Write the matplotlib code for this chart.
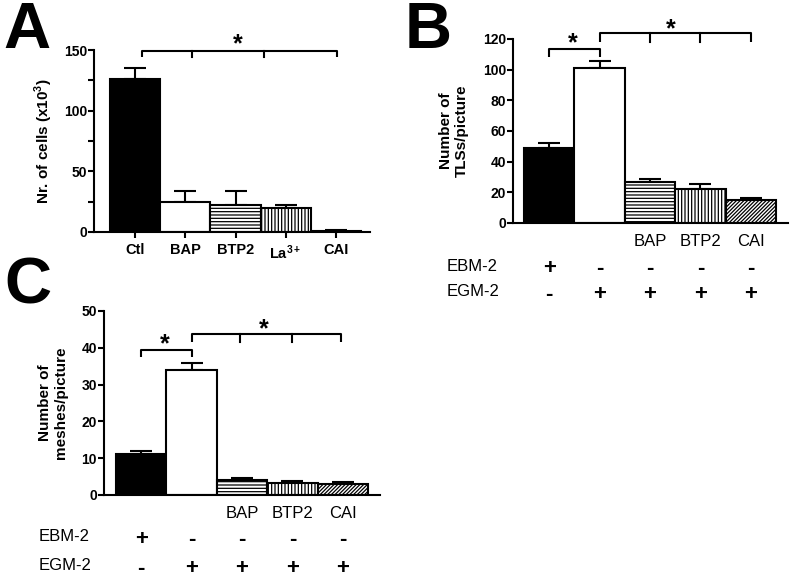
import numpy as np
import matplotlib
matplotlib.use('Agg')
import matplotlib.pyplot as plt

plt.rcParams['font.family'] = ['Liberation Sans', 'DejaVu Sans']
plt.rcParams['mathtext.fontset'] = 'custom'
plt.rcParams['mathtext.rm'] = 'Liberation Sans'
plt.rcParams['mathtext.bf'] = 'Liberation Sans:bold'
plt.rcParams['hatch.linewidth'] = 0.9

# panel A data
a_labels = ['Ctl', 'BAP', 'BTP2', '$\\mathbf{La^{3+}}$', 'CAI']
a_means = [126, 25, 22, 20, 1]
a_sem = [9, 9, 12, 2, 0.5]

# panel B data
b_drugs = ['', '', 'BAP', 'BTP2', 'CAI']
b_means = [49, 101, 27, 22, 15]
b_sem = [3, 4.5, 2, 3.5, 1]

# panel C data
c_drugs = ['', '', 'BAP', 'BTP2', 'CAI']
c_means = [11.2, 34, 4.2, 3.3, 2.9]
c_sem = [0.8, 1.8, 0.4, 0.6, 0.7]

ebm_row = ['+', '-', '-', '-', '-']
egm_row = ['-', '+', '+', '+', '+']

W, H = 791, 578
fig = plt.figure(figsize=(W / 100, H / 100), dpi=100)


def px_axes(left, right, bottom, top):
    return fig.add_axes([left / W, 1 - bottom / H, (right - left) / W, (bottom - top) / H])


def style(ax):
    for s in ['top', 'right']:
        ax.spines[s].set_visible(False)
    for s in ['left', 'bottom']:
        ax.spines[s].set_linewidth(1.5)
    ax.tick_params(axis='y', direction='out', length=4, width=1.5, labelsize=10, pad=1)
    for t in ax.get_yticklabels():
        t.set_fontweight('bold')


def draw_bars(ax, means, sem, fills, hatches):
    x = np.arange(len(means))
    ax.bar(x, means, width=1.0, color=fills, edgecolor='black', linewidth=1.5,
           hatch=hatches, zorder=2)
    ax.errorbar(x, means, yerr=[np.zeros(len(sem)), sem], fmt='none', ecolor='black',
                elinewidth=1.5, capsize=8, capthick=1.5, zorder=1)


def bracket(ax, x0, x1, y, drop, ticks):
    ax.plot([x0, x0, x1, x1], [y - drop, y, y, y - drop], color='black', lw=1.5,
            clip_on=False, solid_capstyle='butt')
    for t in ticks:
        ax.plot([t, t], [y, y - drop], color='black', lw=1.5, clip_on=False)


def star(ax, x, y):
    ax.text(x, y, '*', fontsize=18, fontweight='bold', ha='center', va='center')


# ---------- A ----------
axA = px_axes(94, 370, 232, 50)
draw_bars(axA, a_means, a_sem, ['black', 'white', 'white', 'white', 'white'],
          [None, None, '-----', '|||||', '/////////'])
axA.set_xlim(-0.82, 4.68)
axA.set_ylim(0, 150)
axA.set_yticks([0, 50, 100, 150])
axA.set_yticks([25, 75, 125], minor=True)
axA.set_xticks(range(5))
axA.set_xticklabels(a_labels, fontsize=10.5, fontweight='bold')
style(axA)
axA.tick_params(axis='y', which='minor', length=4, width=1.5)
axA.tick_params(axis='x', length=4, width=1.5, pad=4)
axA.set_ylabel('Nr. of cells (x10$^{\\mathbf{3}}$)', fontsize=11, fontweight='bold')
axA.yaxis.set_label_coords(-0.14, 0.5)
bracket(axA, 0.13, 4.03, 149.2, 5, [1.13, 2.56])
star(axA, 2.04, 155)

# ---------- B ----------
axB = px_axes(513, 788, 223, 39)
draw_bars(axB, b_means, b_sem, ['black', 'white', 'white', 'white', 'white'],
          [None, None, '-----', '|||||', '/////////'])
axB.set_xlim(-0.72, 4.74)
axB.set_ylim(0, 120)
axB.set_yticks(range(0, 121, 20))
axB.set_xticks(range(5))
axB.set_xticklabels(b_drugs, fontsize=12)
style(axB)
axB.tick_params(axis='x', length=0, pad=8)
axB.set_ylabel('Number of\nTLSs/picture', fontsize=11, fontweight='bold')
axB.yaxis.set_label_coords(-0.16, 0.5)
bracket(axB, 0, 1, 113.5, 5, [])
bracket(axB, 1, 4, 124, 6, [2, 3])
star(axB, 0.46, 117)
star(axB, 2.42, 126)

# ---------- C ----------
axC = px_axes(104, 380, 495, 311)
draw_bars(axC, c_means, c_sem, ['black', 'white', 'white', 'white', 'white'],
          [None, None, '-----', '|||||', '/////////'])
axC.set_xlim(-0.74, 4.74)
axC.set_ylim(0, 50)
axC.set_yticks(range(0, 51, 10))
axC.set_xticks(range(5))
axC.set_xticklabels(c_drugs, fontsize=12)
style(axC)
axC.tick_params(axis='x', length=0, pad=8)
axC.set_ylabel('Number of\nmeshes/picture', fontsize=11, fontweight='bold')
axC.yaxis.set_label_coords(-0.13, 0.5)
bracket(axC, 0, 1, 39.4, 2, [])
bracket(axC, 1, 3.97, 43.7, 2.2, [1.96, 3.0])
star(axC, 0.46, 41)
star(axC, 2.44, 45)

# medium rows under B and C
for ax, ys in [(axB, (-0.234, -0.375)), (axC, (-0.228, -0.385))]:
    tr = ax.get_xaxis_transform()
    ax.text(-2.04, ys[0], 'EBM-2', transform=tr, fontsize=12, ha='left', va='center')
    ax.text(-2.04, ys[1], 'EGM-2', transform=tr, fontsize=12, ha='left', va='center')
    for i in range(5):
        ax.text(i, ys[0], ebm_row[i], transform=tr, fontsize=16, fontweight='bold',
                ha='center', va='center_baseline')
        ax.text(i, ys[1], egm_row[i], transform=tr, fontsize=16, fontweight='bold',
                ha='center', va='center_baseline')

# panel letters
fig.text(3 / W, 1 - 48 / H, 'A', fontsize=47, fontweight='bold', va='baseline')
fig.text(405 / W, 1 - 48 / H, 'B', fontsize=47, fontweight='bold', va='baseline')
fig.text(4 / W, 1 - 304 / H, 'C', fontsize=47, fontweight='bold', va='baseline')

fig.savefig('out.png', dpi=100)
